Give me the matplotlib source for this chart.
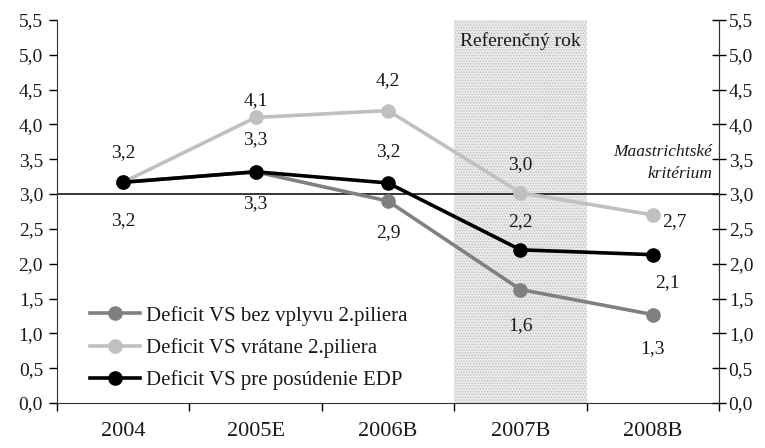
import matplotlib
matplotlib.use("Agg")
from matplotlib import pyplot as plt
from matplotlib.ticker import FixedLocator, FuncFormatter

plt.rcParams['font.family'] = ['Liberation Serif', 'DejaVu Serif']
plt.rcParams['hatch.linewidth'] = 0.6

roky = ["2004", "2005E", "2006B", "2007B", "2008B"]
bez_piliera = [3.17, 3.32, 2.90, 1.63, 1.27]
vratane_piliera = [3.17, 4.10, 4.20, 3.02, 2.70]
edp = [3.17, 3.32, 3.16, 2.20, 2.13]

popis_bez = ["3,2", "3,3", "2,9", "1,6", "1,3"]
popis_vrat = ["3,2", "4,1", "4,2", "3,0", "2,7"]
popis_edp = ["3,2", "3,3", "3,2", "2,2", "2,1"]

nazvy = ["Deficit VS bez vplyvu 2.piliera",
         "Deficit VS vrátane 2.piliera",
         "Deficit VS pre posúdenie EDP"]
kriterium = 3.0
ref_rok = "2007B"

farby = ["#808080", "#c0c0c0", "#000000"]
txt = "#1a1a1a"

fig = plt.figure(figsize=(7.65, 4.48), dpi=100)
ax = fig.add_axes([0.0745, 0.1004, 0.8654, 0.855])

x = list(range(len(roky)))

# referencny rok - bodkovane pozadie
i_ref = roky.index(ref_rok)
ax.axvspan(i_ref - 0.5, i_ref + 0.5, facecolor="#eaeaea", edgecolor="#bdbdbd",
           hatch="......", linewidth=0, zorder=0)
ax.text(i_ref, 5.2, "Referenčný rok", ha="center", va="center", fontsize=14, color=txt)

ax.axhline(kriterium, color="black", linewidth=1.1, zorder=1)
ax.text(0.99, 3.45, "Maastrichtské\nkritérium", transform=ax.get_yaxis_transform(),
        ha="right", va="center", fontsize=12.5, style="italic", color=txt,
        multialignment="right", linespacing=1.5)

for serie, farba, nazov in zip([bez_piliera, vratane_piliera, edp], farby, nazvy):
    ax.plot(x, serie, color=farba, linewidth=2.6, marker="o", markersize=9.5,
            label=nazov, zorder=3)

# popisky hodnot (posun v pixeloch)
posun_bez = [None, (0, -32), (0, -32), (0, -36), (0, -34)]
posun_vrat = [(0, 30), (0, 17), (0, 30), (0, 28), (22, -7)]
posun_edp = [(0, -38), (0, 32), (0, 31), (0, 28), (15, -28)]

for serie, popisy, posuny in [(bez_piliera, popis_bez, posun_bez),
                              (vratane_piliera, popis_vrat, posun_vrat),
                              (edp, popis_edp, posun_edp)]:
    for xi, yi, p, o in zip(x, serie, popisy, posuny):
        if o is None:
            continue
        ax.annotate(p, (xi, yi), xytext=o, textcoords="offset pixels",
                    ha="center", va="center", fontsize=14, color=txt)

ax.set_xlim(-0.5, len(roky) - 0.5)
ax.set_ylim(0, 5.5)

ax.xaxis.set_major_locator(FixedLocator([i - 0.5 for i in range(len(roky) + 1)]))
ax.xaxis.set_minor_locator(FixedLocator(x))
ax.xaxis.set_major_formatter(FuncFormatter(lambda v, p: ""))
ax.xaxis.set_minor_formatter(FuncFormatter(lambda v, p: roky[int(round(v))]))
ax.tick_params(axis="x", which="major", length=6, width=1, direction="out")
ax.tick_params(axis="x", which="minor", length=0, pad=14, labelsize=16, labelcolor=txt)

yticks = [i * 0.5 for i in range(12)]
ax.set_yticks(yticks)
ax.set_yticklabels([f"{v:.1f}".replace(".", ",") for v in yticks])
ax.tick_params(axis="y", length=6, width=1, direction="out", labelsize=14,
               labelcolor=txt, pad=4)

ax2 = ax.twinx()
ax2.set_ylim(0, 5.5)
ax2.set_yticks(yticks)
ax2.set_yticklabels([f"{v:.1f}".replace(".", ",") for v in yticks])
ax2.tick_params(axis="y", length=10, width=1, direction="inout", labelsize=14,
                labelcolor=txt, pad=2)

for a in (ax, ax2):
    a.spines["top"].set_visible(False)
    for s in a.spines.values():
        s.set_color("#333333")
ax2.spines["left"].set_visible(False)
ax2.spines["bottom"].set_visible(False)

ax.legend(loc="lower left", bbox_to_anchor=(0.037, 0.012), frameon=False, fontsize=15,
          handlelength=2.4, handletextpad=0.3, labelspacing=0.59, labelcolor=txt,
          borderaxespad=0)

fig.savefig("out.png", dpi=100)
